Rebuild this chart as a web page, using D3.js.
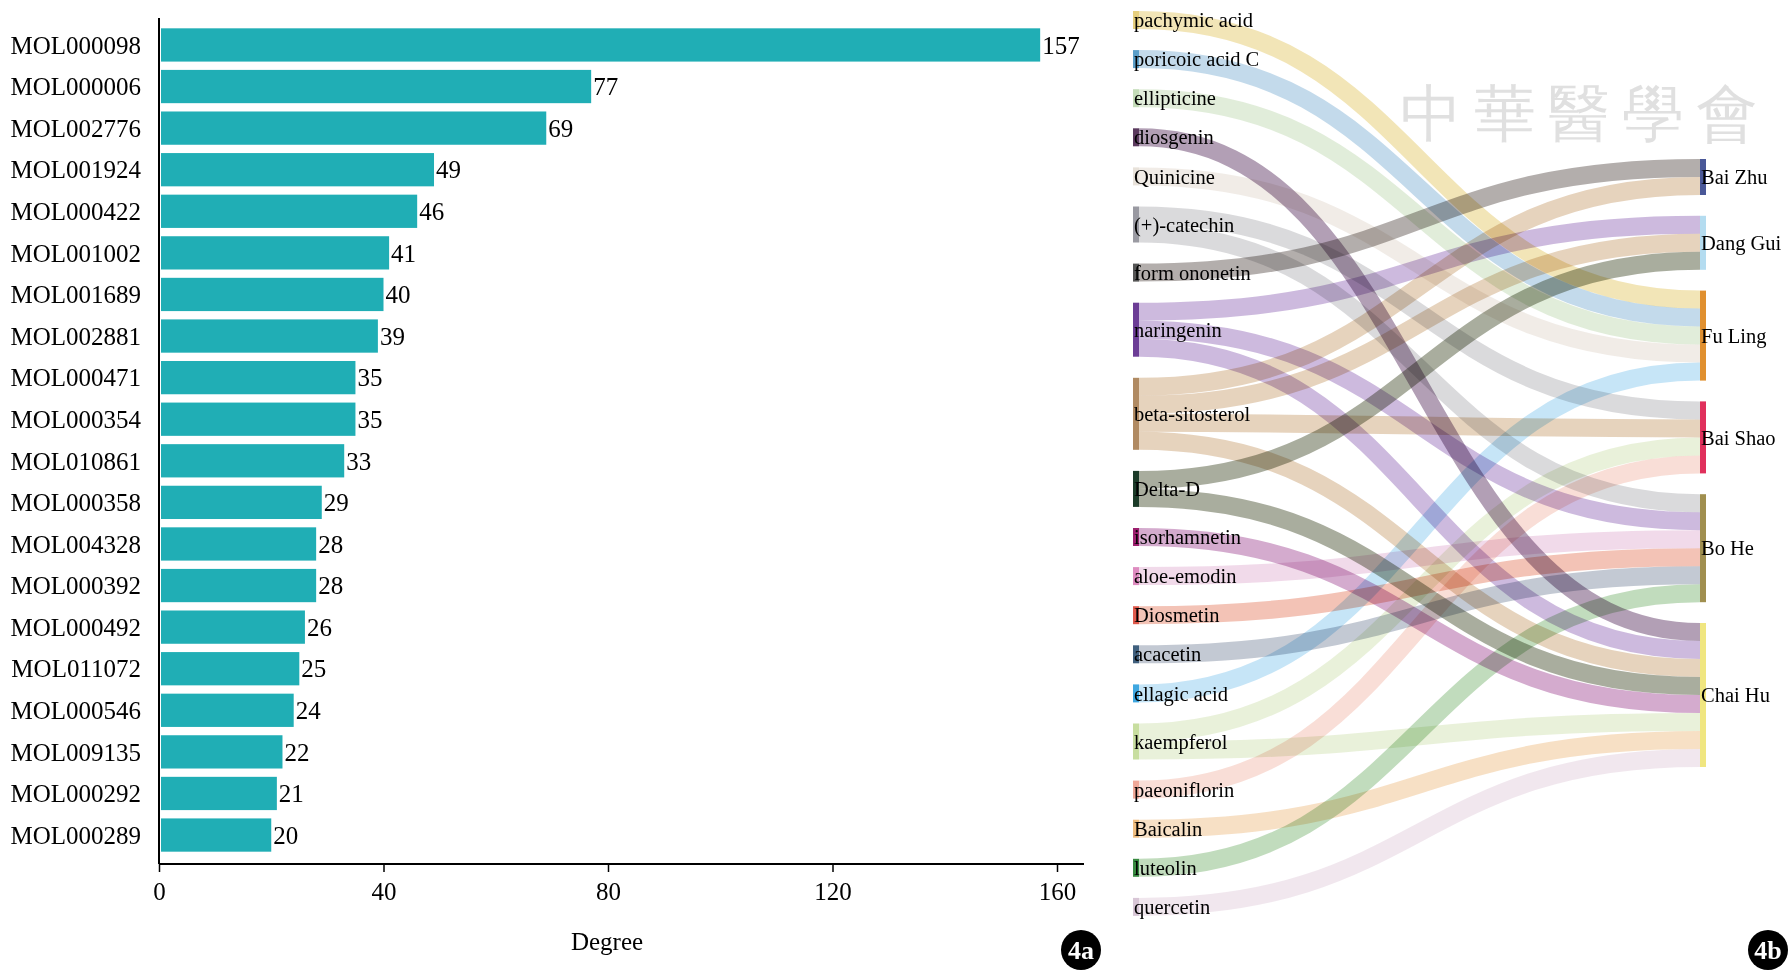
<!DOCTYPE html>
<html><head><meta charset="utf-8">
<script src="https://cdn.jsdelivr.net/npm/d3@7"></script>
<style>body{margin:0;background:#fff}text{font-family:"Liberation Serif","DejaVu Serif",serif}</style>
</head><body><div id="chart"></div>
<script>
const W = 1792, H = 973;
const svg = d3.select("#chart").append("svg").attr("width", W).attr("height", H);

// ---- 4a: degree bar chart
const degree = [
  ["MOL000098",157],["MOL000006",77],["MOL002776",69],["MOL001924",49],["MOL000422",46],
  ["MOL001002",41],["MOL001689",40],["MOL002881",39],["MOL000471",35],["MOL000354",35],
  ["MOL010861",33],["MOL000358",29],["MOL004328",28],["MOL000392",28],["MOL000492",26],
  ["MOL011072",25],["MOL000546",24],["MOL009135",22],["MOL000292",21],["MOL000289",20]
];
const x = d3.scaleLinear().domain([0,160]).range([159,1057]);
const y = d3.scaleBand().domain(degree.map(d => d[0])).range([20,860]).padding(0.2);

svg.selectAll(".bar").data(degree).enter().append("rect")
  .attr("x", x(0)+2).attr("y", d => y(d[0]))
  .attr("width", d => x(d[1])-x(0)-2).attr("height", y.bandwidth())
  .attr("fill", "#20aeb5");
svg.selectAll(".val").data(degree).enter().append("text")
  .attr("x", d => x(d[1])+2).attr("y", d => y(d[0])+y.bandwidth()/2).attr("dy",".35em")
  .attr("font-size", 25).text(d => d[1]);
svg.selectAll(".lab").data(degree).enter().append("text")
  .attr("x", 141).attr("y", d => y(d[0])+y.bandwidth()/2).attr("dy",".35em")
  .attr("text-anchor","end").attr("font-size", 25).text(d => d[0]);

svg.append("line").attr("x1",159).attr("x2",159).attr("y1",18).attr("y2",864).attr("stroke","#000").attr("stroke-width",2);
const xa = svg.append("g").attr("transform","translate(0,864)")
  .call(d3.axisBottom(x).tickValues([0,40,80,120,160]).tickSize(8).tickPadding(10));
xa.select(".domain").attr("d","M159,0H1084").attr("stroke-width",2);
xa.selectAll("text").attr("font-size",25).attr("font-family","Liberation Serif");
xa.selectAll(".tick line").attr("stroke-width",1.5);
svg.append("text").attr("x",607).attr("y",950).attr("text-anchor","middle").attr("font-size",25).text("Degree");

function badge(cx, cy, t){
  svg.append("circle").attr("cx",cx).attr("cy",cy).attr("r",20).attr("fill","#000");
  svg.append("text").attr("x",cx).attr("y",cy).attr("dy",".36em").attr("text-anchor","middle")
    .attr("fill","#fff").attr("font-size",26).attr("font-family","Liberation Sans Narrow, Liberation Sans").attr("font-weight","bold").text(t);
}
badge(1081,950,"4a");

// ---- 4b: ingredient -> herb sankey
const sources = [
  ["pachymic acid","#e6cf7e","#f0e1aa"],["poricoic acid C","#5b9fc9","#b8d4e8"],["ellipticine","#c4dcb8","#dcead4"],
  ["diosgenin","#5b3a5e","#a58ea8"],["Quinicine","#e8e2da","#eee9e3"],["(+)-catechin","#9a9aa2","#d3d3d6"],
  ["form ononetin","#555","#a6a09e"],["naringenin","#6c3d96","#c4aed8"],["beta-sitosterol","#b08a62","#e2cbb2"],
  ["Delta-D","#1b3b28","#9a9f8d"],["isorhamnetin","#9c1f6e","#cc9cc6"],["aloe-emodin","#de8cc0","#efd4e6"],
  ["Diosmetin","#e05a4c","#f1b8a9"],["acacetin","#40607e","#b8bfcb"],["ellagic acid","#3fa7e0","#bce0f6"],
  ["kaempferol","#c8dea0","#e5eed4"],["paeoniflorin","#f0a898","#f8d8d0"],["Baicalin","#f0be80","#f6dbbb"],
  ["luteolin","#388a40","#b6d6b2"],["quercetin","#d8c6d6","#eee3eb"]
];
const herbs = [
  ["Bai Zhu","#4a5898"],["Dang Gui","#b4dcf0"],["Fu Ling","#e09030"],
  ["Bai Shao","#e0305c"],["Bo He","#a08f4f"],["Chai Hu","#f0e680"]
];
const links = [
  ["pachymic acid","Fu Ling"],["poricoic acid C","Fu Ling"],["ellipticine","Fu Ling"],["diosgenin","Chai Hu"],
  ["Quinicine","Fu Ling"],["(+)-catechin","Bai Shao"],["(+)-catechin","Bo He"],["form ononetin","Bai Zhu"],
  ["naringenin","Dang Gui"],["naringenin","Bo He"],["naringenin","Chai Hu"],
  ["beta-sitosterol","Bai Zhu"],["beta-sitosterol","Dang Gui"],["beta-sitosterol","Bai Shao"],["beta-sitosterol","Chai Hu"],
  ["Delta-D","Dang Gui"],["Delta-D","Chai Hu"],["isorhamnetin","Chai Hu"],["aloe-emodin","Bo He"],
  ["Diosmetin","Bo He"],["acacetin","Bo He"],["ellagic acid","Fu Ling"],["kaempferol","Bai Shao"],["kaempferol","Chai Hu"],
  ["paeoniflorin","Bai Shao"],["Baicalin","Chai Hu"],["luteolin","Bo He"],["quercetin","Chai Hu"]
];
const unit = 18, srcGap = 21.1, tgtGap = 20.8;
const srcX = 1133, tgtX = 1700, nodeW = 6;
const hIdx = new Map(herbs.map((h,i) => [h[0], i]));
const sIdx = new Map(sources.map((s,i) => [s[0], i]));

// stack nodes
const sNode = {}, tNode = {};
let yy = 11;
sources.forEach(s => {
  const n = links.filter(l => l[0]===s[0]).length;
  sNode[s[0]] = {y0: yy, y1: yy + n*unit, off: yy}; yy += n*unit + srcGap;
});
yy = 159;
herbs.forEach(h => {
  const n = links.filter(l => l[1]===h[0]).length;
  tNode[h[0]] = {y0: yy, y1: yy + n*unit, off: yy}; yy += n*unit + tgtGap;
});
const lk = links.map(l => ({s:l[0], t:l[1]}));
// source side ordered by herb, target side ordered by source
lk.slice().sort((a,b) => sIdx.get(a.s)-sIdx.get(b.s) || hIdx.get(a.t)-hIdx.get(b.t))
  .forEach(d => { d.ys = sNode[d.s].off + unit/2; sNode[d.s].off += unit; });
lk.slice().sort((a,b) => hIdx.get(a.t)-hIdx.get(b.t) || sIdx.get(a.s)-sIdx.get(b.s))
  .forEach(d => { d.yt = tNode[d.t].off + unit/2; tNode[d.t].off += unit; });

const linkPath = d3.linkHorizontal().x(d => d[0]).y(d => d[1]);
const lcol = new Map(sources.map(s => [s[0], s[2]]));
svg.append("g").selectAll("path").data(lk).enter().append("path")
  .attr("d", d => linkPath({source:[srcX+nodeW, d.ys], target:[tgtX, d.yt]}))
  .attr("fill","none").attr("stroke", d => lcol.get(d.s)).attr("stroke-width", unit)
  .attr("stroke-opacity", 0.85).style("mix-blend-mode","multiply");

svg.append("g").selectAll("rect").data(sources).enter().append("rect")
  .attr("x", srcX).attr("y", d => sNode[d[0]].y0).attr("width", nodeW)
  .attr("height", d => sNode[d[0]].y1 - sNode[d[0]].y0).attr("fill", d => d[1]);
svg.append("g").selectAll("text").data(sources).enter().append("text")
  .attr("x", srcX+1).attr("y", d => (sNode[d[0]].y0+sNode[d[0]].y1)/2).attr("dy",".35em")
  .attr("font-size", 20.5).text(d => d[0]);

svg.append("g").selectAll("rect").data(herbs).enter().append("rect")
  .attr("x", tgtX).attr("y", d => tNode[d[0]].y0).attr("width", nodeW)
  .attr("height", d => tNode[d[0]].y1 - tNode[d[0]].y0).attr("fill", d => d[1]);
svg.append("g").selectAll("text").data(herbs).enter().append("text")
  .attr("x", tgtX+1).attr("y", d => (tNode[d[0]].y0+tNode[d[0]].y1)/2).attr("dy",".35em")
  .attr("font-size", 20.5).text(d => d[0]);

// watermark
svg.append("text").attr("x",1400).attr("y",135).attr("font-size",62)
  .attr("font-family","Noto Sans CJK TC").attr("fill","#ccc").attr("opacity",0.6)
  .attr("letter-spacing",12).text("中華醫學會");

badge(1768,950,"4b");
</script></body></html>
